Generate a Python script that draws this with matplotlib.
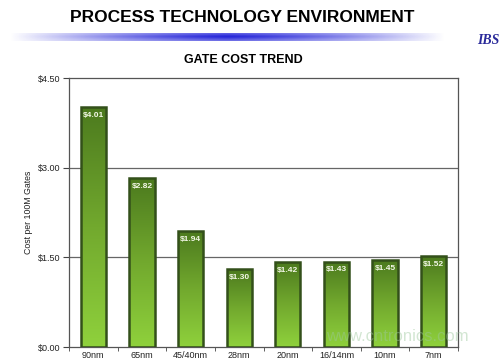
import matplotlib.pyplot as plt
import numpy as np
from matplotlib.colors import LinearSegmentedColormap

plt.rcParams['font.family'] = ['Liberation Sans', 'DejaVu Sans']

# Gate cost per 100M gates by node
nodes = ['90nm', '65nm', '45/40nm', '28nm', '20nm', '16/14nm', '10nm', '7nm']
costs = [4.01, 2.82, 1.94, 1.30, 1.42, 1.43, 1.45, 1.52]
y_ticks = [0.0, 1.5, 3.0, 4.5]
y_tick_labels = ['$0.00', '$1.50', '$3.00', '$4.50']

fig = plt.figure(figsize=(5.0, 3.63), dpi=100)
fig.patch.set_facecolor('white')

# Header titles
fig.text(0.485, 0.952, 'PROCESS TECHNOLOGY ENVIRONMENT', ha='center', va='center',
         fontsize=12.5, fontweight='bold', color='black')
fig.text(0.999, 0.888, 'IBS', ha='right', va='center', fontsize=10, fontweight='bold',
         fontstyle='italic', color='#2a2a9a', family='Liberation Serif')
fig.text(0.486, 0.834, 'GATE COST TREND', ha='center', va='center',
         fontsize=9, fontweight='bold', color='black')

# Blue fading band under the header
band_ax = fig.add_axes([0.02, 0.886, 0.87, 0.024])
band_ax.axis('off')
xs = np.linspace(-1, 1, 400)
strength = np.clip(1 - np.abs(xs) ** 1.3, 0, 1)
rows = np.linspace(-1, 1, 12)
vert = 1 - 0.35 * np.abs(rows)
alpha = vert[:, None] * strength[None, :]
rgba = np.zeros((len(rows), len(xs), 4))
rgba[..., 0] = 0.13
rgba[..., 1] = 0.13
rgba[..., 2] = 0.85
rgba[..., 3] = alpha
band_ax.imshow(rgba, aspect='auto', extent=[0, 1, 0, 1])

# Main chart
ax = fig.add_axes([0.138, 0.044, 0.778, 0.741])
x = np.arange(len(nodes))
bars = ax.bar(x, costs, width=0.52, color='none', edgecolor='#33501a', linewidth=1.8, zorder=3)

green = LinearSegmentedColormap.from_list('g', ['#8fd13c', '#72a92e', '#4c7a1e'])
grad = np.linspace(0, 1, 256).reshape(-1, 1)
for bar in bars:
    bx, by = bar.get_x(), bar.get_y()
    w, h = bar.get_width(), bar.get_height()
    im = ax.imshow(grad, cmap=green, aspect='auto', origin='lower',
                   extent=[bx, bx + w, by, by + h], zorder=2)
    im.set_clip_path(bar)

for xi, c in zip(x, costs):
    ax.text(xi, c - 0.08, '$%.2f' % c, ha='center', va='top', fontsize=6,
            fontweight='bold', color='#f4f8e8', zorder=4)

ax.set_xlim(-0.5, len(nodes) - 0.5)
ax.set_ylim(0, 4.5)
ax.set_yticks(y_ticks)
ax.set_yticklabels(y_tick_labels, fontsize=6.5, color='#222222')
ax.set_xticks(x)
ax.set_xticklabels(nodes, fontsize=6.5, color='#222222')
ax.tick_params(axis='x', length=0, pad=3)
ax.set_xticks(np.arange(len(nodes) + 1) - 0.5, minor=True)
ax.tick_params(axis='x', which='minor', length=3, color='#444444')
ax.tick_params(axis='y', length=4, color='#444444', pad=2)
ax.set_ylabel('Cost per 100M Gates', fontsize=6.3, color='#222222', labelpad=4)

for v in [1.5, 3.0]:
    ax.axhline(v, color='#666666', linewidth=0.9, zorder=1)
for s in ax.spines.values():
    s.set_color('#555555')
    s.set_linewidth(0.9)

# faint watermark
fig.text(0.795, 0.072, 'www.cntronics.com', ha='center', va='center', fontsize=12,
         color='#9cc89c', alpha=0.45, zorder=10)

fig.savefig('out.png', dpi=100)
